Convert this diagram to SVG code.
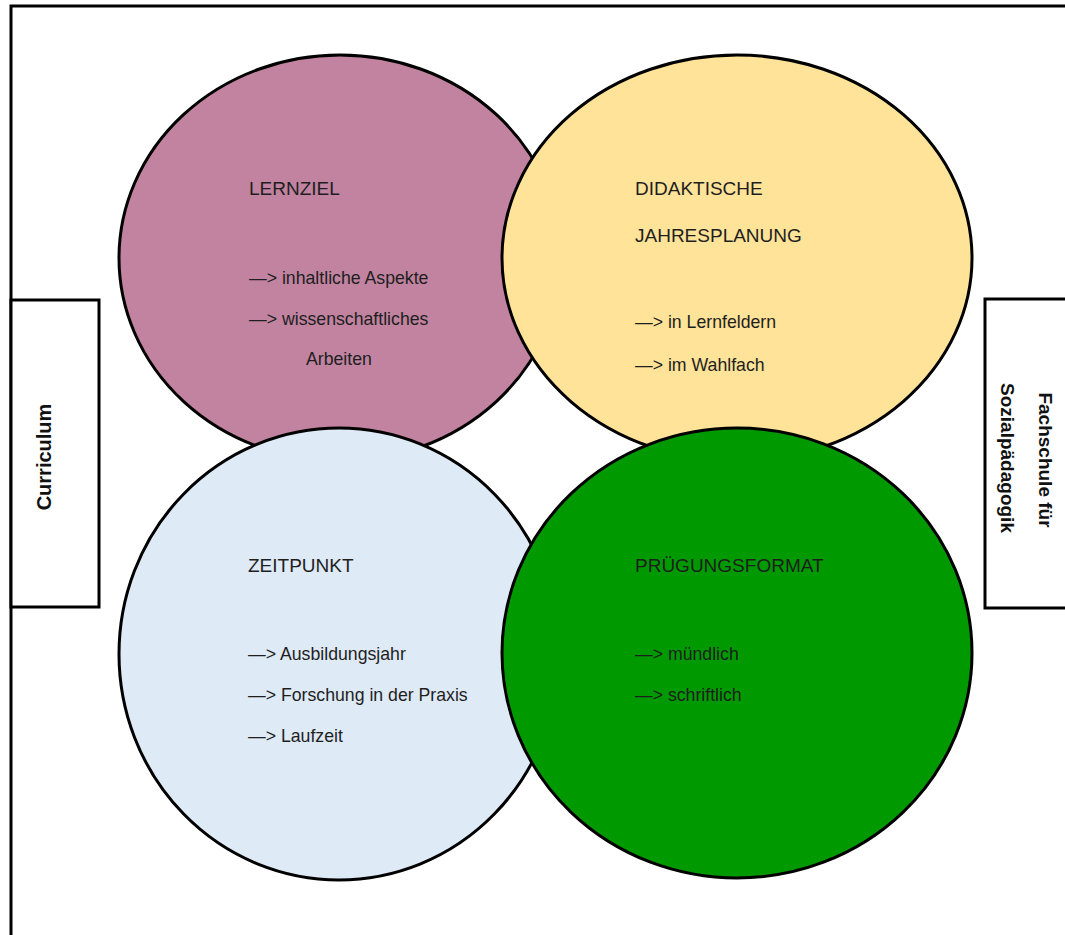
<svg xmlns="http://www.w3.org/2000/svg" width="1065" height="935" viewBox="0 0 1065 935">
  <style>
    .frame { fill: #ffffff; stroke: #000000; stroke-width: 3; }
    .circle { stroke: #000000; stroke-width: 3; }
    .head { font-family: "Liberation Sans", Arial, sans-serif; font-size: 19px; fill: #1e1e1e; }
    .body { font-family: "Liberation Sans", Arial, sans-serif; font-size: 17.7px; fill: #1e1e1e; }
    .side { font-family: "Liberation Sans", Arial, sans-serif; font-weight: bold; fill: #111111; text-anchor: middle; }
  </style>
  <rect x="0" y="0" width="1065" height="935" fill="#ffffff"/>
  <rect id="frame" class="frame" x="11" y="6" width="1200" height="1100"/>

  <g id="curriculum">
    <rect class="frame" x="11" y="300" width="88" height="307"/>
    <text class="side" font-size="20" transform="translate(51,457) rotate(-90)">Curriculum</text>
  </g>

  <g id="fachschule">
    <rect class="frame" x="985" y="299" width="200" height="309"/>
    <text class="side" font-size="19" transform="translate(1039,460) rotate(90)">Fachschule für</text>
    <text class="side" font-size="19" transform="translate(1001,458) rotate(90)">Sozialpädagogik</text>
  </g>

  <g id="lernziel">
    <ellipse class="circle" cx="340" cy="258" rx="221" ry="203" fill="#C183A0"/>
    <text class="head" x="249" y="195">LERNZIEL</text>
    <text class="body" x="249" y="284">—&gt; inhaltliche Aspekte</text>
    <text class="body" x="249" y="325">—&gt; wissenschaftliches</text>
    <text class="body" x="306" y="365">Arbeiten</text>
  </g>

  <g id="jahresplanung">
    <ellipse class="circle" cx="737" cy="258" rx="235" ry="203" fill="#FFE398"/>
    <text class="head" x="635" y="195">DIDAKTISCHE</text>
    <text class="head" x="635" y="242">JAHRESPLANUNG</text>
    <text class="body" x="635" y="328">—&gt; in Lernfeldern</text>
    <text class="body" x="635" y="371">—&gt; im Wahlfach</text>
  </g>

  <g id="zeitpunkt">
    <ellipse class="circle" cx="339" cy="654" rx="220" ry="226" fill="#DEEAF6"/>
    <text class="head" x="248" y="572">ZEITPUNKT</text>
    <text class="body" x="248" y="660">—&gt; Ausbildungsjahr</text>
    <text class="body" x="248" y="701">—&gt; Forschung in der Praxis</text>
    <text class="body" x="248" y="742">—&gt; Laufzeit</text>
  </g>

  <g id="pruefungsformat">
    <ellipse class="circle" cx="737" cy="653" rx="235" ry="225" fill="#009900"/>
    <text class="head" x="635" y="572" fill="#0a0a0a">PRÜGUNGSFORMAT</text>
    <text class="body" x="635" y="660">—&gt; mündlich</text>
    <text class="body" x="635" y="701">—&gt; schriftlich</text>
  </g>

  <g id="connectors"></g>
</svg>
